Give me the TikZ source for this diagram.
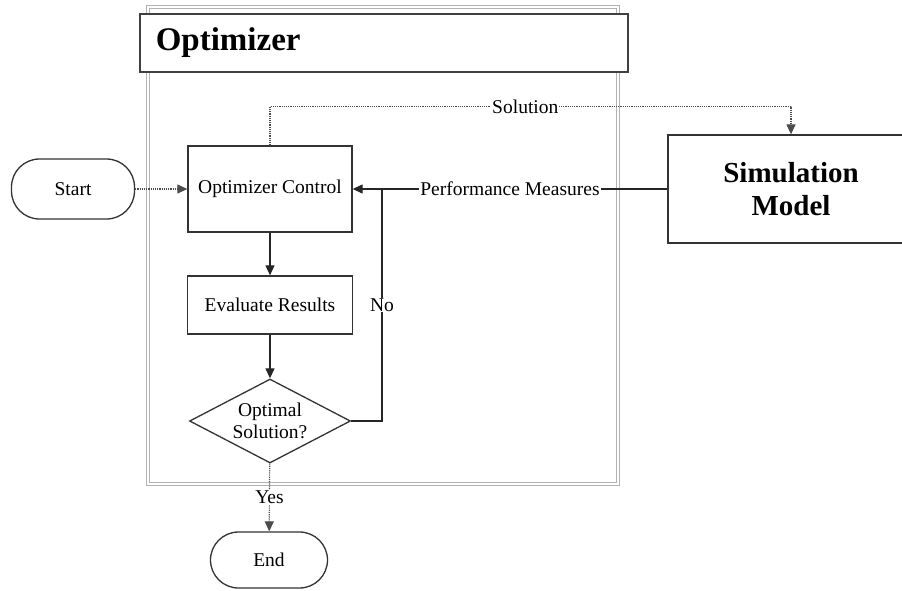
\documentclass[tikz,border=0pt]{standalone}
\usepackage{fontspec}
\setmainfont{Liberation Serif}
\usetikzlibrary{shapes.geometric,arrows.meta,positioning}
\tikzset{
    flow-box/.style = {draw=black!80, fill=white, line width=1.3pt, rectangle, inner sep=0pt, font=\fontsize{19.5}{23}\selectfont},
    flow-end/.style = {flow-box, rounded corners=28pt},
    flow-decision/.style = {flow-box, diamond, aspect=1.9, align=center, font=\fontsize{19.5}{22}\selectfont},
    flow-label/.style = {fill=white, inner sep=1pt, font=\fontsize{19.5}{23}\selectfont},
    flow-arrow/.style = {-{Triangle[length=10pt,width=9pt]}, line width=1.2pt, draw=black!85},
    flow-dots/.style = {flow-arrow, densely dotted, draw=black!70},
}

\begin{document}
\begin{tikzpicture}[x=1pt, y=-1pt]
\path[use as bounding box, clip] (0,0) rectangle (902,590);
\draw[black!30, line width=0.8pt, double=white, double distance=2pt] (148,7) rectangle (618,484);
\node[flow-box, draw=black!75, line width=1.5pt, anchor=north west, minimum width=488pt, minimum height=58pt, text width=456pt, inner xsep=16pt, align=left, font=\fontsize{33}{36}\selectfont\bfseries] (title) at (139,13) {Optimizer};

\node[flow-end, minimum width=123pt, minimum height=60pt] (start) at (73,189) {Start};
\node[flow-box, minimum width=164pt, minimum height=86pt] (control) at (270,189) {Optimizer Control};
\node[flow-box, minimum width=165pt, minimum height=58pt] (evaluate) at (270,305) {Evaluate Results};
\node[flow-decision, minimum width=161pt, minimum height=84pt] (decision) at (270,421) {Optimal\\Solution?};
\node[flow-end, minimum width=117pt, minimum height=56pt] (end) at (269,560) {End};
\node[flow-box, minimum width=246pt, minimum height=108pt, align=center, font=\fontsize{29}{33}\selectfont\bfseries] (model) at (791,189) {Simulation\\Model};
\coordinate (join) at (382,189);

\draw[flow-dots] (start) -- (control);
\draw[flow-arrow] (control) -- (evaluate);
\draw[flow-arrow] (evaluate) -- (decision);
\draw[flow-arrow] (model) -- node[flow-label]{Performance Measures} (control);
\draw[line width=1.2pt, draw=black!85] (decision.east) -| node[flow-label, pos=0.75]{No} (join);
\draw[flow-dots] (control.north) -- ++(0,-39) -| node[flow-label, pos=0.245]{Solution} (model.north);
\draw[flow-dots] (decision) -- node[flow-label]{Yes} (end);
\end{tikzpicture}
\end{document}
